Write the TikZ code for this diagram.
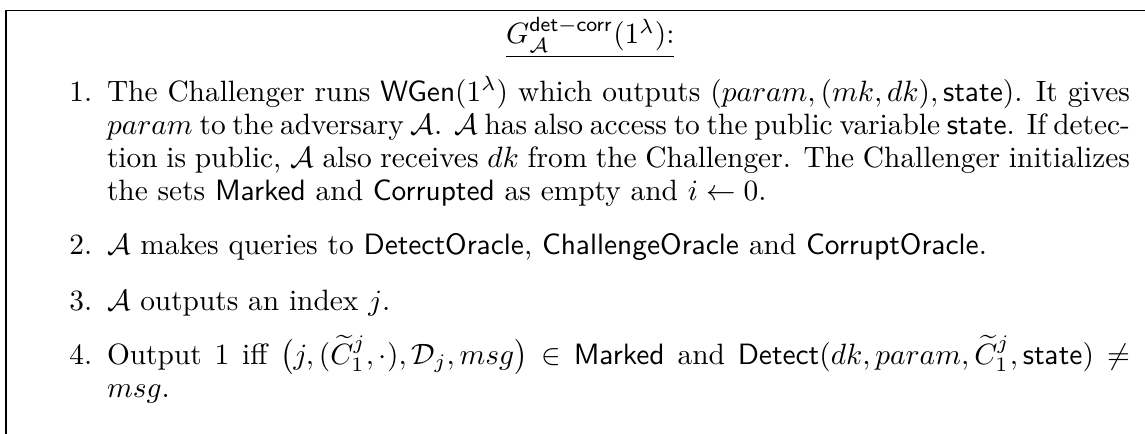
\documentclass[tikz,border=0pt]{standalone}
\usepackage{amsmath,amssymb}
\newcommand{\bodysize}{\fontsize{10}{11.29}\selectfont}
\tikzset{
  frameline/.style={line width=0.45pt, draw=black},
  titletext/.style={anchor=base, inner sep=0pt, outer sep=0pt, font=\bodysize},
  numlabel/.style={anchor=base east, inner sep=0pt, outer sep=0pt, font=\bodysize},
  itemtext/.style={anchor=base west, inner sep=0pt, outer sep=0pt, text width=348pt, align=justify, font=\bodysize}
}
\begin{document}
\begin{tikzpicture}[x=1pt,y=1pt]
\useasboundingbox (0,0) rectangle (389.5,-147.63);
\coordinate (fbot) at (2.04,-147.63);
\coordinate (ftl) at (2.04,-3.57);
\coordinate (ftr) at (389.5,-3.57);
\draw[frameline] (fbot) -- (ftl) -- (ftr);
\node[titletext] (title) at (200.8,-14.93) {\underline{$G^{\mathsf{det-corr}}_{\mathcal{A}}(1^{\lambda})$:}};
\node[numlabel] (n1) at (31.4,-34.36) {1.};
\node[itemtext] (i1) at (36.4,-34.36) {The Challenger runs $\mathsf{WGen}(1^{\lambda})$ which outputs $(param, (mk, dk), \mathsf{state})$. It gives $param$ to the adversary $\mathcal{A}$. $\mathcal{A}$ has also access to the public variable $\mathsf{state}$. If detec-\linebreak tion is public, $\mathcal{A}$ also receives $dk$ from the Challenger. The Challenger initializes the sets $\mathsf{Marked}$ and $\mathsf{Corrupted}$ as empty and $i \leftarrow 0$.};
\node[numlabel] (n2) at (31.4,-86.74) {2.};
\node[itemtext] (i2) at (36.4,-86.74) {$\mathcal{A}$ makes queries to $\mathsf{DetectOracle}$, $\mathsf{ChallengeOracle}$ and $\mathsf{CorruptOracle}$.};
\node[numlabel] (n3) at (31.4,-105.45) {3.};
\node[itemtext] (i3) at (36.4,-105.45) {$\mathcal{A}$ outputs an index $j$.};
\node[numlabel] (n4) at (31.4,-123.82) {4.};
\node[itemtext] (i4) at (36.4,-123.82) {Output 1 iff $\big(j, (\widetilde{C}^j_1, \cdot), \mathcal{D}_j, msg\big) \in \mathsf{Marked}$ and $\mathsf{Detect}(dk, param, \widetilde{C}^j_1, \mathsf{state}) \neq$\linebreak $msg$.};
\end{tikzpicture}
\end{document}
